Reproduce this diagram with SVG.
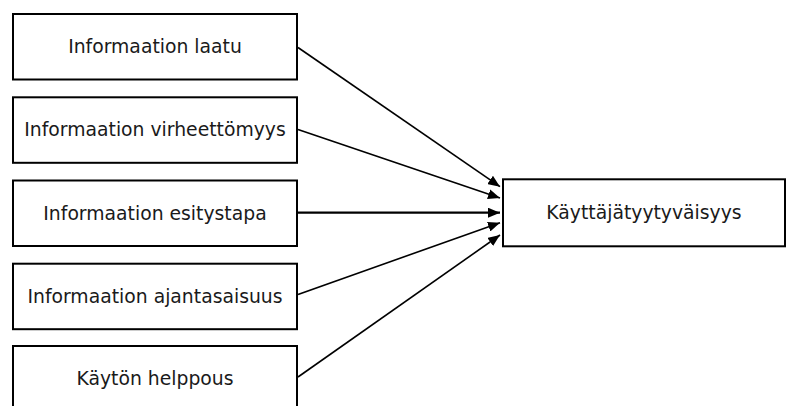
<svg xmlns="http://www.w3.org/2000/svg" width="787" height="406" viewBox="0 0 787 406">
  <defs>
    <style>
      .box { fill: #ffffff; stroke: #000000; stroke-width: 2; }
      .lbl { font-family: "DejaVu Sans", Verdana, sans-serif; font-size: 18.8px; fill: #1a1a1a; text-anchor: middle; }
      .edge { stroke: #000000; stroke-width: 1.6; fill: none; marker-end: url(#head); }
    </style>
    <marker id="head" markerUnits="userSpaceOnUse" markerWidth="12" markerHeight="10" viewBox="0 0 12 10" refX="12" refY="5" orient="auto">
      <path d="M0,0 L12,5 L0,10 Z" fill="#000000"/>
    </marker>
  </defs>
  <rect width="787" height="406" fill="#ffffff"/>

  <g id="node-laatu">
    <rect class="box" x="13" y="14" width="284" height="65.5"/>
    <text class="lbl" x="155" y="53">Informaation laatu</text>
  </g>
  <g id="node-virheettomyys">
    <rect class="box" x="13" y="97.3" width="284" height="65.5"/>
    <text class="lbl" x="155" y="136.3">Informaation virheettömyys</text>
  </g>
  <g id="node-esitystapa">
    <rect class="box" x="13" y="180.5" width="284" height="65.5"/>
    <text class="lbl" x="155" y="219.5">Informaation esitystapa</text>
  </g>
  <g id="node-ajantasaisuus">
    <rect class="box" x="13" y="263.7" width="284" height="65.5"/>
    <text class="lbl" x="155" y="302.7">Informaation ajantasaisuus</text>
  </g>
  <g id="node-helppous">
    <rect class="box" x="13" y="346" width="284" height="65.5"/>
    <text class="lbl" x="155" y="385">Käytön helppous</text>
  </g>
  <g id="node-tyytyvaisyys">
    <rect class="box" x="503" y="179.3" width="282" height="67"/>
    <text class="lbl" x="644" y="219">Käyttäjätyytyväisyys</text>
  </g>

  <g id="connectors">
    <line class="edge" x1="298" y1="47.5" x2="500" y2="186.7"/>
    <line class="edge" x1="298" y1="129.5" x2="500" y2="198"/>
    <line class="edge" x1="298" y1="212.7" x2="500" y2="212.7" style="stroke-width:2.2"/>
    <line class="edge" x1="298" y1="294.5" x2="500" y2="222.7"/>
    <line class="edge" x1="298" y1="377" x2="500" y2="235"/>
  </g>
</svg>
